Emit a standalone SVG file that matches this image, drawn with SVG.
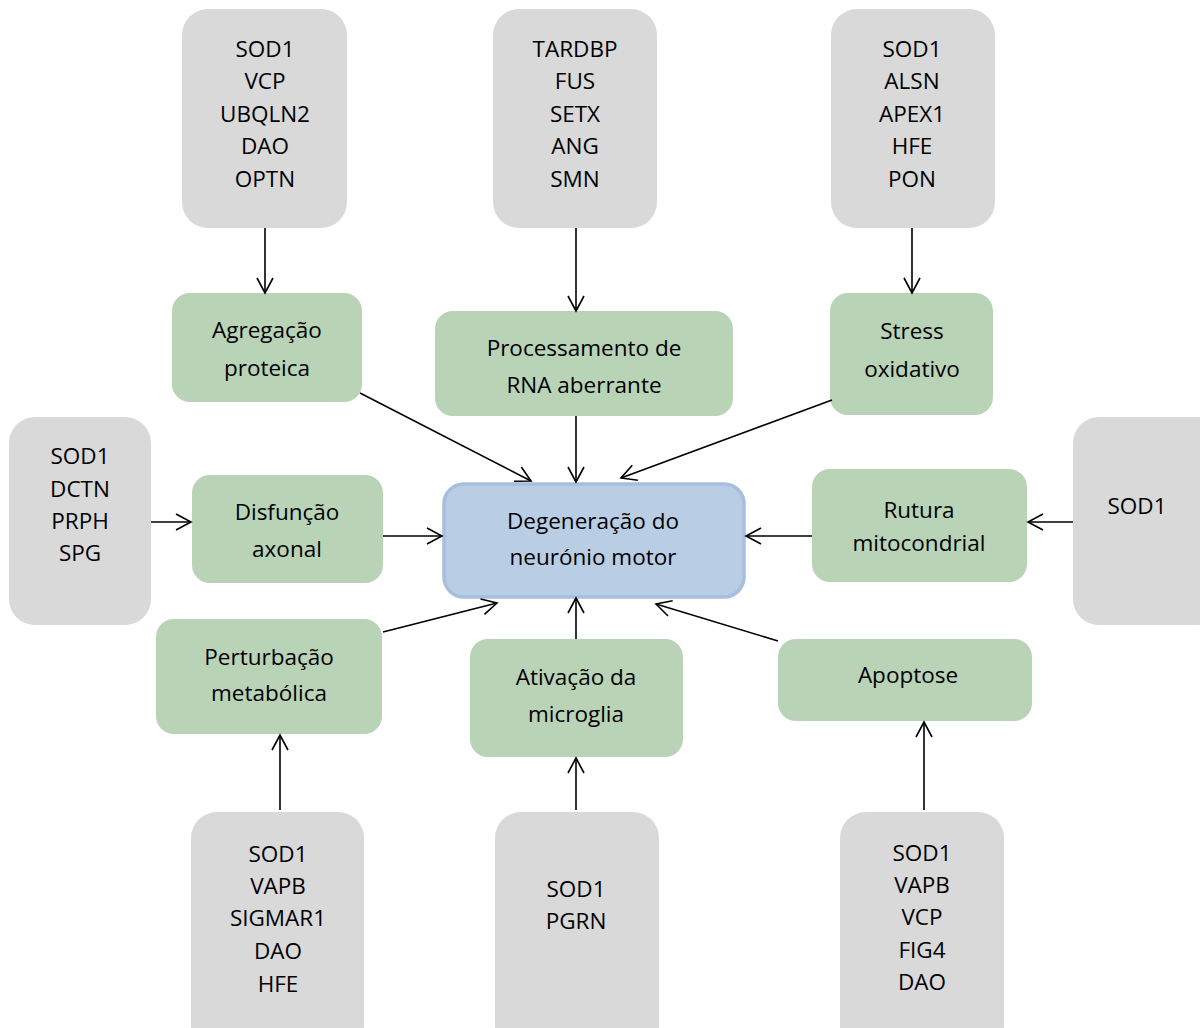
<svg xmlns="http://www.w3.org/2000/svg" width="1200" height="1028" viewBox="0 0 1200 1028">
<style>
.gene{fill:#d9d9d9}
.proc{fill:#b9d3b6}
.core{fill:#b9cde5;stroke:#a7bfde;stroke-width:3.5}
text{font-family:"Open Sans","Liberation Sans",sans-serif;font-size:22.5px;fill:#000;text-anchor:middle}
.c line{stroke:#000;stroke-width:1.6;fill:none;marker-end:url(#ah)}
</style>
<defs>
<marker id="ah" markerUnits="userSpaceOnUse" markerWidth="20" markerHeight="20" viewBox="-16 -10 18 20" refX="0" refY="0" orient="auto">
<path d="M-15,-8 L0,0 L-15,8" fill="none" stroke="#000" stroke-width="1.6"/>
</marker>
</defs>
<rect width="1200" height="1028" fill="#fff"/>

<g id="g-top1"><rect class="gene" x="182" y="9" width="165" height="219" rx="26"/>
<text x="265" y="57">SOD1</text><text x="265" y="89">VCP</text><text x="265" y="122">UBQLN2</text><text x="265" y="154">DAO</text><text x="265" y="187">OPTN</text></g>
<g id="g-top2"><rect class="gene" x="493" y="9" width="164" height="219" rx="26"/>
<text x="575" y="57">TARDBP</text><text x="575" y="89">FUS</text><text x="575" y="122">SETX</text><text x="575" y="154">ANG</text><text x="575" y="187">SMN</text></g>
<g id="g-top3"><rect class="gene" x="831" y="9" width="164" height="219" rx="26"/>
<text x="912" y="57">SOD1</text><text x="912" y="89">ALSN</text><text x="912" y="122">APEX1</text><text x="912" y="154">HFE</text><text x="912" y="187">PON</text></g>
<g id="g-left"><rect class="gene" x="9" y="417" width="142" height="208" rx="26"/>
<text x="80" y="464">SOD1</text><text x="80" y="497">DCTN</text><text x="80" y="529">PRPH</text><text x="80" y="561">SPG</text></g>
<g id="g-right"><rect class="gene" x="1073" y="417" width="150" height="208" rx="26"/>
<text x="1137" y="514">SOD1</text></g>
<g id="g-bot1"><rect class="gene" x="191" y="812" width="173" height="240" rx="26"/>
<text x="278" y="862">SOD1</text><text x="278" y="894">VAPB</text><text x="278" y="926">SIGMAR1</text><text x="278" y="959">DAO</text><text x="278" y="992">HFE</text></g>
<g id="g-bot2"><rect class="gene" x="495" y="812" width="164" height="240" rx="26"/>
<text x="576" y="897">SOD1</text><text x="576" y="929">PGRN</text></g>
<g id="g-bot3"><rect class="gene" x="840" y="812" width="164" height="240" rx="26"/>
<text x="922" y="861">SOD1</text><text x="922" y="893">VAPB</text><text x="922" y="925">VCP</text><text x="922" y="958">FIG4</text><text x="922" y="990">DAO</text></g>

<g id="p-agreg"><rect class="proc" x="172" y="293" width="190" height="109" rx="18"/>
<text x="267" y="338">Agregação</text><text x="267" y="376">proteica</text></g>
<g id="p-rna"><rect class="proc" x="435" y="311" width="298" height="105" rx="18"/>
<text x="584" y="356">Processamento de</text><text x="584" y="393">RNA aberrante</text></g>
<g id="p-stress"><rect class="proc" x="830" y="293" width="163" height="122" rx="18"/>
<text x="912" y="339">Stress</text><text x="912" y="377">oxidativo</text></g>
<g id="p-axonal"><rect class="proc" x="192" y="475" width="191" height="108" rx="18"/>
<text x="287" y="520">Disfunção</text><text x="287" y="557">axonal</text></g>
<g id="p-mito"><rect class="proc" x="812" y="469" width="215" height="113" rx="18"/>
<text x="919" y="518">Rutura</text><text x="919" y="551">mitocondrial</text></g>
<g id="p-metab"><rect class="proc" x="156" y="619" width="226" height="115" rx="18"/>
<text x="269" y="665">Perturbação</text><text x="269" y="701">metabólica</text></g>
<g id="p-micro"><rect class="proc" x="470" y="639" width="213" height="118" rx="18"/>
<text x="576" y="685">Ativação da</text><text x="576" y="722">microglia</text></g>
<g id="p-apop"><rect class="proc" x="778" y="639" width="254" height="82" rx="18"/>
<text x="908" y="683">Apoptose</text></g>

<g id="center"><rect class="core" x="444" y="484" width="300" height="113" rx="20"/>
<text x="593" y="529">Degeneração do</text><text x="593" y="565">neurónio motor</text></g>

<g id="connectors" class="c">
<line x1="265" y1="228" x2="265" y2="293"/>
<line x1="576" y1="228" x2="576" y2="311"/>
<line x1="912" y1="228" x2="912" y2="293"/>
<line x1="151" y1="522" x2="191" y2="522"/>
<line x1="383" y1="536" x2="442" y2="536"/>
<line x1="812" y1="536" x2="746" y2="536"/>
<line x1="1073" y1="522" x2="1028" y2="522"/>
<line x1="360" y1="393" x2="531" y2="481"/>
<line x1="576" y1="416" x2="576" y2="482"/>
<line x1="832" y1="400" x2="621" y2="478"/>
<line x1="383" y1="632" x2="497" y2="603"/>
<line x1="576" y1="639" x2="576" y2="598"/>
<line x1="778" y1="641" x2="656" y2="604"/>
<line x1="280" y1="810" x2="280" y2="735"/>
<line x1="576" y1="810" x2="576" y2="758"/>
<line x1="924" y1="810" x2="924" y2="722"/>
</g>
</svg>
